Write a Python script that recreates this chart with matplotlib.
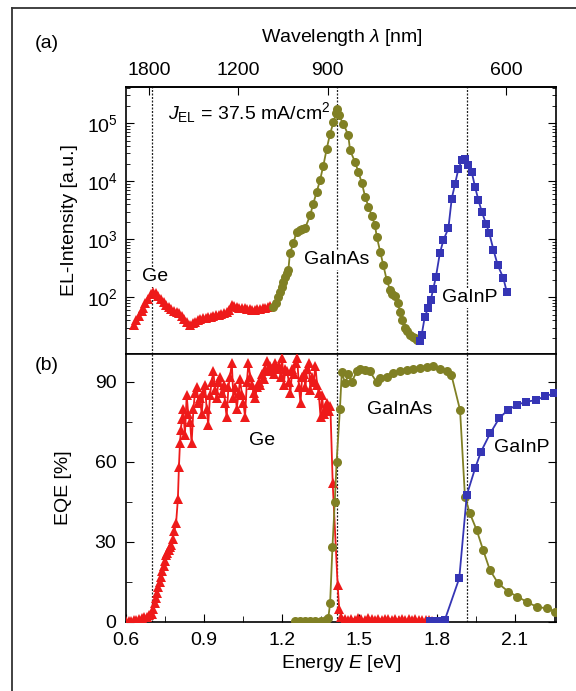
import numpy as np
import matplotlib.pyplot as plt
from matplotlib.lines import Line2D
from matplotlib.ticker import FixedLocator, MultipleLocator, NullLocator, LogLocator

plt.rcParams['font.family'] = ['Liberation Sans', 'DejaVu Sans']
plt.rcParams['mathtext.fontset'] = 'custom'
plt.rcParams['mathtext.rm'] = 'Liberation Sans'
plt.rcParams['mathtext.it'] = 'Liberation Sans:italic'
plt.rcParams['font.size'] = 14

# (a) electroluminescence spectra
ge_el_E = [0.630, 0.640, 0.650, 0.660, 0.667, 0.675, 0.685, 0.695, 0.705, 0.715,
           0.725, 0.735, 0.745, 0.755, 0.765, 0.775, 0.785, 0.795, 0.805, 0.815,
           0.825, 0.835, 0.847, 0.857, 0.867, 0.877, 0.887, 0.897, 0.907, 0.917,
           0.927, 0.937, 0.947, 0.957, 0.967, 0.977, 0.988, 0.998, 1.007, 1.017,
           1.027, 1.037, 1.047, 1.057, 1.067, 1.077, 1.087, 1.097, 1.107, 1.117,
           1.127, 1.137, 1.147, 1.157]
ge_el = [33, 40, 48, 58, 65, 78, 95, 115, 125, 118,
         105, 92, 82, 74, 67, 62, 59, 56, 53, 48,
         42, 37, 33, 36, 38, 40, 42, 43, 44, 45,
         46, 47, 49, 50, 52, 54, 56, 60, 72, 70,
         68, 66, 65, 64, 63, 62, 61, 61, 62, 63,
         64, 66, 68, 70]

gainas_el_E = [1.168, 1.178, 1.188, 1.194, 1.200, 1.207, 1.213, 1.220, 1.226, 1.232,
               1.245, 1.258, 1.270, 1.280, 1.290, 1.310, 1.322, 1.335, 1.348, 1.361,
               1.374, 1.387, 1.400, 1.410, 1.415, 1.420, 1.438, 1.457, 1.464, 1.483,
               1.496, 1.509, 1.522, 1.535, 1.548, 1.560, 1.567, 1.580, 1.592, 1.605,
               1.618, 1.627, 1.637, 1.647, 1.657, 1.666, 1.676, 1.685, 1.695, 1.705,
               1.715, 1.721]
gainas_el = [69, 80, 102, 125, 152, 185, 225, 260, 295, 570,
             850, 1350, 1450, 1500, 1530, 2570, 4120, 6460, 10350, 18600,
             36300, 66000, 104000, 150000, 176000, 136000, 98000, 62000, 34000, 21500,
             14400, 9400, 5400, 3650, 2500, 1740, 1100, 610, 360, 200,
             134, 115, 103, 80, 55, 41, 30, 26, 22.5, 21,
             20, 18.6]

gainp_el_E = [1.734, 1.740, 1.752, 1.765, 1.775, 1.785, 1.795, 1.810, 1.824, 1.843,
              1.856, 1.869, 1.882, 1.895, 1.907, 1.920, 1.933, 1.946, 1.959, 1.972,
              1.988, 2.001, 2.017, 2.033, 2.055, 2.068]
gainp_el = [17.3, 22.3, 46, 65, 89, 141, 224, 570, 965, 1540,
            5000, 9100, 16500, 22900, 24500, 18700, 14400, 7900, 4700, 2960,
            1860, 1260, 650, 360, 213, 125]

# (b) external quantum efficiency
ge_eqe_E = [0.600, 0.610, 0.620, 0.630, 0.640, 0.650, 0.660, 0.670, 0.680, 0.690,
            0.700, 0.705, 0.710, 0.715, 0.720, 0.725, 0.730, 0.735, 0.740, 0.745,
            0.750, 0.755, 0.760, 0.765, 0.770, 0.775, 0.780, 0.786, 0.793, 0.800,
            0.804, 0.808, 0.812, 0.815, 0.821, 0.827, 0.834, 0.840, 0.847, 0.853,
            0.860, 0.866, 0.873, 0.879, 0.885, 0.892, 0.898, 0.904, 0.911, 0.917,
            0.924, 0.930, 0.937, 0.943, 0.950, 0.956, 0.963, 0.969, 0.976, 0.982,
            0.988, 0.995, 1.001, 1.008, 1.014, 1.021, 1.027, 1.034, 1.040, 1.047,
            1.053, 1.059, 1.066, 1.072, 1.079, 1.085, 1.092, 1.098, 1.105, 1.111,
            1.118, 1.124, 1.131, 1.137, 1.144, 1.150, 1.157, 1.163, 1.170, 1.176,
            1.183, 1.189, 1.196, 1.202, 1.208, 1.215, 1.221, 1.228, 1.234, 1.241,
            1.247, 1.254, 1.260, 1.267, 1.273, 1.279, 1.285, 1.292, 1.298, 1.305,
            1.311, 1.318, 1.324, 1.330, 1.337, 1.343, 1.350, 1.356, 1.362, 1.369,
            1.375, 1.382, 1.388, 1.397, 1.416, 1.422, 1.430, 1.443, 1.456, 1.469,
            1.482, 1.495, 1.508, 1.521, 1.534, 1.547, 1.560, 1.573, 1.586, 1.599,
            1.612, 1.625, 1.638, 1.651, 1.664, 1.677, 1.690, 1.703, 1.716, 1.729,
            1.742, 1.755, 1.768, 1.780]
ge_eqe = [0.3, 0.4, 0.5, 0.7, 0.9, 1.1, 1.4, 1.7, 2.0, 2.5,
          3, 5, 7, 9, 11, 13, 15, 17, 19, 21,
          23, 25, 26, 27, 28, 29, 31, 34, 37, 46,
          58, 67, 72, 76, 80, 70, 85, 78, 75, 67,
          80, 86, 88, 82, 84, 78, 86, 89, 80, 74,
          85, 90, 94, 87, 84, 90, 92, 86, 89, 82,
          77, 88, 92, 97, 84, 88, 80, 86, 91, 85,
          82, 77, 90, 97, 92, 89, 86, 84, 88, 90,
          89, 93, 91, 95, 98, 94, 96, 95, 93, 97,
          95, 96, 92, 99, 89, 95, 94, 90, 86, 95,
          93, 97, 99, 88, 82, 92, 93, 88, 95, 97,
          87, 92, 90, 96, 89, 86, 77, 85, 78, 80,
          82, 79, 81, 52, 14, 5, 2, 1.2, 0.8, 1.3,
          0.9, 1.5, 1.0, 0.8, 1.4, 1.1, 0.9, 1.3, 0.8, 1.0,
          1.2, 0.8, 1.1, 0.9, 1.3, 0.7, 1.0, 0.8, 1.1, 0.6,
          0.9, 0.7, 0.6, 0.5]

gainas_eqe_E = [1.250, 1.270, 1.290, 1.310, 1.330, 1.350, 1.370, 1.380, 1.387, 1.396,
                1.405, 1.412, 1.425, 1.432, 1.445, 1.457, 1.470, 1.490, 1.502, 1.521,
                1.540, 1.566, 1.579, 1.605, 1.630, 1.656, 1.682, 1.708, 1.733, 1.759,
                1.785, 1.810, 1.836, 1.855, 1.888, 1.907, 1.926, 1.952, 1.977, 2.003,
                2.035, 2.074, 2.109, 2.145, 2.183, 2.222, 2.255]
gainas_eqe = [0.2, 0.2, 0.3, 0.3, 0.4, 0.5, 0.8, 1.5, 7, 28,
              45, 60, 80, 93.6, 89.5, 93, 90, 94, 95, 94.5,
              94, 90, 91.4, 92, 93.3, 94, 94.5, 95, 95.3, 95.7,
              96, 95, 94, 92.5, 79.5, 47, 40.7, 34.5, 27, 19.5,
              14.5, 11.4, 9.5, 7.6, 5.7, 5.1, 3.9]

gainp_eqe_E = [1.772, 1.790, 1.810, 1.829, 1.885, 1.914, 1.946, 1.969, 2.004, 2.039,
               2.072, 2.107, 2.143, 2.181, 2.216, 2.251]
gainp_eqe = [0.3, 0.3, 0.4, 0.7, 16.4, 47.6, 57.6, 63.9, 70.7, 76.4,
             79.5, 81.4, 82.6, 83.2, 84.7, 85.7]

gap_E = [0.70, 1.413, 1.913]
wl_ticks = [1800, 1200, 900, 600]

red = '#ee1a1a'
olive = '#808024'
blue = '#3535b5'

fig = plt.figure(figsize=(5.76, 6.91), dpi=100)
W, H = 576, 691
ax1 = fig.add_axes([126 / W, 1 - 354 / H, 430 / W, 267 / H])
ax2 = fig.add_axes([126 / W, 1 - 622 / H, 430 / W, 268 / H])

# outer frame
fig.add_artist(Line2D([12 / W, 12 / W], [0, 1 - 8 / H], transform=fig.transFigure, color='#333333', lw=1.3))
fig.add_artist(Line2D([12 / W, 1], [1 - 8 / H, 1 - 8 / H], transform=fig.transFigure, color='#333333', lw=1.3))

for ax in (ax1, ax2):
    for e in gap_E:
        ax.axvline(e, color='#222222', lw=0.9, ls=(0, (1.6, 1.2)), zorder=1)
    ax.set_xlim(0.6, 2.258)
    for s in ax.spines.values():
        s.set_linewidth(1.2)

# top panel
ax1.plot(ge_el_E, ge_el, '-^', color=red, ms=7.5, mew=0, lw=1.3, zorder=3)
ax1.plot(gainas_el_E, gainas_el, '-o', color=olive, ms=6.5, mew=0, lw=1.3, zorder=3)
ax1.plot(gainp_el_E, gainp_el, '-s', color=blue, ms=5.8, mew=0, lw=1.3, zorder=3)
ax1.set_yscale('log')
ax1.set_ylim(10.5, 4.2e5)
ax1.yaxis.set_major_locator(LogLocator(base=10, numticks=10))
ax1.yaxis.set_minor_locator(LogLocator(base=10, subs=np.arange(2, 10), numticks=20))
ax1.tick_params(axis='y', which='both', direction='in', left=True, right=True, pad=6)
ax1.tick_params(axis='y', which='major', length=6)
ax1.tick_params(axis='y', which='minor', length=3)
ax1.tick_params(axis='x', which='both', bottom=False, labelbottom=False)

sec = ax1.secondary_xaxis('top', functions=(lambda e: 1239.84 / np.maximum(e, 1e-6),
                                            lambda l: 1239.84 / np.maximum(l, 1e-6)))
sec.xaxis.set_major_locator(FixedLocator(wl_ticks))
sec.xaxis.set_minor_locator(NullLocator())
sec.tick_params(direction='in', length=6, pad=6)
sec.spines['top'].set_linewidth(1.2)

bbox = dict(facecolor='white', edgecolor='none', pad=1)
ax1.text(0.712, 224, 'Ge', ha='center', va='center', bbox=bbox, zorder=4)
ax1.text(1.414, 440, 'GaInAs', ha='center', va='center', bbox=bbox, zorder=4)
ax1.text(1.927, 98, 'GaInP', ha='center', va='center', bbox=bbox, zorder=4)
ax1.text(0.762, 1.5e5, r'$J_{\rm EL}$ = 37.5 mA/cm$^2$', ha='left', va='center', zorder=4)

# bottom panel
ax2.plot(ge_eqe_E, ge_eqe, '-^', color=red, ms=7.5, mew=0, lw=1.3, zorder=3)
ax2.plot(gainas_eqe_E, gainas_eqe, '-o', color=olive, ms=6.5, mew=0, lw=1.3, zorder=3)
ax2.plot(gainp_eqe_E, gainp_eqe, '-s', color=blue, ms=5.8, mew=0, lw=1.3, zorder=3)
ax2.set_ylim(0, 100.5)
ax2.yaxis.set_major_locator(MultipleLocator(30))
ax2.yaxis.set_minor_locator(MultipleLocator(15))
ax2.xaxis.set_major_locator(MultipleLocator(0.3))
ax2.xaxis.set_minor_locator(MultipleLocator(0.15))
ax2.xaxis.set_major_formatter(plt.FuncFormatter(lambda v, p: f'{v:.1f}'))
ax2.tick_params(axis='y', which='both', direction='in', left=True, right=True, pad=7)
ax2.tick_params(axis='x', which='both', direction='in', bottom=True, top=False, pad=7)
ax2.tick_params(which='major', length=6)
ax2.tick_params(which='minor', length=4)

ax2.text(1.124, 67.9, 'Ge', ha='center', va='center', bbox=bbox, zorder=4)
ax2.text(1.657, 79.5, 'GaInAs', ha='center', va='center', bbox=bbox, zorder=4)
ax2.text(2.127, 65.6, 'GaInP', ha='center', va='center', bbox=bbox, zorder=4)

fig.text(47 / W, 1 - 43 / H, '(a)', ha='center', va='center')
fig.text(47 / W, 1 - 365 / H, '(b)', ha='center', va='center')
fig.text(342 / W, 1 - 38 / H, r'Wavelength $\lambda$ [nm]', ha='center', va='center')
fig.text(341 / W, 1 - 663 / H, r'Energy $E$ [eV]', ha='center', va='center')
fig.text(69 / W, 1 - 220 / H, 'EL-Intensity [a.u.]', rotation=90, ha='center', va='center')
fig.text(64 / W, 1 - 488 / H, 'EQE [%]', rotation=90, ha='center', va='center')

fig.savefig('out.png', dpi=100)
